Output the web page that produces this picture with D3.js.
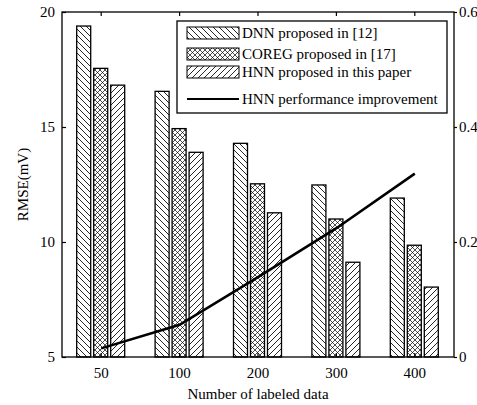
<!DOCTYPE html>
<html><head><meta charset="utf-8">
<script src="https://cdn.jsdelivr.net/npm/d3@7"></script>
<style>body{margin:0;background:#fff}svg{display:block}svg text{font-family:"Liberation Serif","DejaVu Serif",serif !important;fill:#000}</style>
</head><body><svg id="c" width="477" height="405"></svg>
<script>
const categories = ["50","100","200","300","400"];
const dnn   = [19.39, 16.55, 14.29, 12.48, 11.91];
const coreg = [17.55, 14.93, 12.53, 11.00, 9.86];
const hnn   = [16.82, 13.90, 11.27, 9.12, 8.04];
const improvement = [0.015, 0.056, 0.139, 0.224, 0.319];
const leftTicks = [5,10,15,20];
const rightTicks = [0,0.2,0.4,0.6];
const seriesNames = ["DNN proposed in [12]","COREG proposed in [17]","HNN proposed in this paper","HNN performance improvement"];

const svg = d3.select("#c");
const m = {l:62, r:454, t:12, b:357};
const x = d3.scaleBand().domain(categories).range([m.l, m.r]).padding(0);
const y = d3.scaleLinear().domain([5,20]).range([m.b, m.t]);
const y2 = d3.scaleLinear().domain([0,0.6]).range([m.b, m.t]);

const defs = svg.append("defs");
function hatch(id, paths, size, sw){
  const p = defs.append("pattern").attr("id",id).attr("patternUnits","userSpaceOnUse")
    .attr("width",size).attr("height",size);
  p.append("rect").attr("width",size).attr("height",size).attr("fill","#fff");
  paths.forEach(d=>p.append("path").attr("d",d).attr("stroke","#000").attr("stroke-width",sw).attr("fill","none"));
}
const s1 = 6, s2 = 5;
hatch("pDNN", [`M0,0 L${s1},${s1} M-1,${s1-1} L1,${s1+1} M${s1-1},-1 L${s1+1},1`], s1, 0.85);
hatch("pCOREG", [`M0,0 L${s2},${s2} M-1,${s2-1} L1,${s2+1} M${s2-1},-1 L${s2+1},1`,
                 `M${s2},0 L0,${s2} M-1,1 L1,-1 M${s2-1},${s2+1} L${s2+1},${s2-1}`], s2, 0.7);
hatch("pHNN", [`M0,${s1} L${s1},0 M-1,1 L1,-1 M${s1-1},${s1+1} L${s1+1},${s1-1}`], s1, 0.85);
const fills = ["url(#pDNN)","url(#pCOREG)","url(#pHNN)"];
const seriesVals = [dnn, coreg, hnn];

const barW = 14, step = 17;
seriesVals.forEach((vals,si)=>{
  svg.append("g").selectAll("rect").data(vals).join("rect")
    .attr("x",(d,i)=>x(categories[i]) + x.bandwidth()/2 - 24.5 + si*step)
    .attr("y",d=>y(d)).attr("width",barW).attr("height",d=>y(5)-y(d))
    .attr("fill",fills[si]).attr("stroke","#000").attr("stroke-width",1.3);
});

// line
const line = d3.line().x((d,i)=>x(categories[i])+x.bandwidth()/2).y(d=>y2(d));
svg.append("path").datum(improvement).attr("d",line).attr("fill","none")
  .attr("stroke","#000").attr("stroke-width",2.6);

// frame
svg.append("rect").attr("x",m.l).attr("y",m.t).attr("width",m.r-m.l).attr("height",m.b-m.t)
  .attr("fill","none").attr("stroke","#000").attr("stroke-width",1.3);

// axes
const fs = "15px";
const gLeft = svg.append("g").attr("transform",`translate(${m.l},0)`)
  .call(d3.axisLeft(y).tickValues(leftTicks).tickSize(-4).tickPadding(7).tickFormat(d3.format("d")));
const gRight = svg.append("g").attr("transform",`translate(${m.r},0)`)
  .call(d3.axisRight(y2).tickValues(rightTicks).tickSize(3).tickPadding(2).tickFormat(d=>d===0?"0":d3.format(".1f")(d)));
const gBottom = svg.append("g").attr("transform",`translate(0,${m.b})`)
  .call(d3.axisBottom(x).tickSize(-4).tickPadding(10));
const gTop = svg.append("g").attr("transform",`translate(0,${m.t})`)
  .call(d3.axisTop(x).tickSize(-4).tickFormat(""));
[gLeft,gRight,gBottom,gTop].forEach(g=>{
  g.attr("font-family",null);
  g.select(".domain").remove();
  g.selectAll("line").attr("stroke","#000").attr("stroke-width",1.2);
  g.selectAll("text").style("font-size",fs).attr("fill","#000");
});

svg.append("text").attr("transform",`translate(28,${(m.t+m.b)/2}) rotate(-90)`)
  .attr("text-anchor","middle").style("font-size","15px").text("RMSE(mV)");
svg.append("text").attr("x",(m.l+m.r)/2).attr("y",399)
  .attr("text-anchor","middle").style("font-size","15px").text("Number of labeled data");

// legend
const lg = svg.append("g");
lg.append("rect").attr("x",177).attr("y",21).attr("width",270).attr("height",92)
  .attr("fill","#fff").attr("stroke","#000").attr("stroke-width",1.3);
const rowsY = [33,54,72,99];
seriesNames.forEach((name,i)=>{
  if(i<3){
    lg.append("rect").attr("x",187).attr("y",rowsY[i]-6).attr("width",52).attr("height",12)
      .attr("fill",fills[i]).attr("stroke","#000").attr("stroke-width",1);
  } else {
    lg.append("line").attr("x1",187).attr("x2",239).attr("y1",rowsY[i]).attr("y2",rowsY[i])
      .attr("stroke","#000").attr("stroke-width",2.2);
  }
  lg.append("text").attr("x",242).attr("y",rowsY[i]+5).style("font-size","15px").text(name);
});
</script></body></html>
